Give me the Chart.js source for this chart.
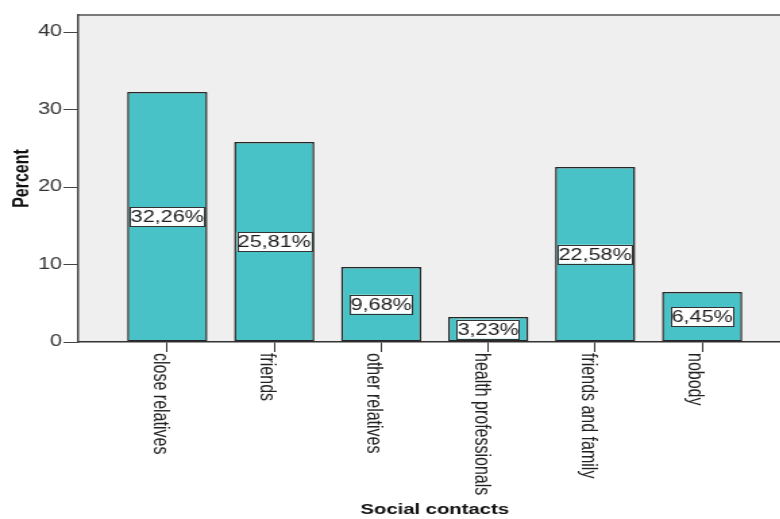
<!DOCTYPE html>
<html>
<head>
<meta charset="utf-8">
<script src="https://cdn.jsdelivr.net/npm/chart.js@4.4.1/dist/chart.umd.min.js"></script>
<style>
  html, body { margin: 0; padding: 0; background: #fff; overflow: hidden; width: 780px; height: 519px; }
  #wrap { position: relative; width: 586px; height: 519px; transform: scaleX(1.35); transform-origin: 0 0; }
</style>
</head>
<body>
<div id="wrap"><canvas id="c"></canvas></div>
<script>
// ---- data ----
const categories = ["close relatives", "friends", "other relatives", "health professionals", "friends and family", "nobody"];
const percents = [32.26, 25.81, 9.68, 3.23, 22.58, 6.45];
const yTicks = [0, 10, 20, 30, 40];
const xTitle = "Social contacts";
const yTitle = "Percent";

const FONT = "'Liberation Sans', Arial, Helvetica, sans-serif";
Chart.defaults.font.family = FONT;

const points = categories.map((c, i) => ({ x: i, y: percents[i] }));

const bgPlugin = {
  id: 'bg',
  beforeDraw(chart) {
    const { ctx, chartArea: a } = chart;
    ctx.save();
    ctx.fillStyle = '#efefef';
    ctx.fillRect(a.left, a.top, a.right - a.left, a.bottom - a.top);
    ctx.strokeStyle = '#7a7a7a';
    ctx.lineWidth = 2;
    ctx.beginPath();
    ctx.moveTo(a.left, a.top);
    ctx.lineTo(a.right, a.top);
    ctx.stroke();
    ctx.restore();
  }
};

const labelPlugin = {
  id: 'labels',
  afterDatasetsDraw(chart) {
    const { ctx } = chart;
    const meta = chart.getDatasetMeta(0);
    ctx.save();
    ctx.font = '16px ' + FONT;
    ctx.textAlign = 'center';
    ctx.textBaseline = 'middle';
    meta.data.forEach((el, i) => {
      const txt = percents[i].toFixed(2).replace('.', ',') + '%';
      const w = ctx.measureText(txt).width + 1;
      const h = 19;
      const cx = el.x;
      const cy = (el.y + el.base) / 2;
      ctx.fillStyle = '#ffffff';
      ctx.fillRect(cx - w / 2, cy - h / 2, w, h);
      ctx.strokeStyle = '#333333';
      ctx.lineWidth = 1;
      ctx.strokeRect(Math.round(cx - w / 2) + 0.5, Math.round(cy - h / 2) + 0.5, Math.round(w), h);
      ctx.fillStyle = '#1e1e1e';
      ctx.fillText(txt, cx, cy + 1);
    });
    ctx.restore();
  }
};

const xLabelPlugin = {
  id: 'xlabels',
  afterDraw(chart) {
    const { ctx, chartArea: a } = chart;
    const sx = chart.scales.x;
    ctx.save();
    ctx.font = '16px ' + FONT;
    ctx.fillStyle = '#222222';
    ctx.textAlign = 'left';
    ctx.textBaseline = 'alphabetic';
    categories.forEach((c, i) => {
      const px = sx.getPixelForValue(i);
      ctx.save();
      ctx.translate(px - 10, a.bottom + 11);
      ctx.rotate(Math.PI / 2);
      ctx.fillText(c, 0, 0);
      ctx.restore();
    });
    ctx.restore();
  }
};

new Chart(document.getElementById('c'), {
  type: 'bar',
  data: {
    datasets: [{
      data: points,
      backgroundColor: '#48c2c6',
      borderColor: '#262626',
      borderWidth: 1.5,
      borderSkipped: false,
      barPercentage: 0.75,
      categoryPercentage: 1.0
    }]
  },
  options: {
    responsive: true,
    maintainAspectRatio: false,
    animation: false,
    layout: { padding: { top: 15, left: 0, right: 0, bottom: 0 } },
    plugins: { legend: { display: false }, tooltip: { enabled: false } },
    scales: {
      x: {
        type: 'linear',
        offset: false,
        min: -0.832,
        max: 5.832,
        bounds: 'data',
        afterBuildTicks(scale) { scale.ticks = categories.map((c, i) => ({ value: i })); },
        ticks: { display: false, stepSize: 1, includeBounds: false },
        grid: { offset: false, drawOnChartArea: false, drawTicks: true, tickLength: 10, color: '#333333', lineWidth: 1 },
        border: { display: true, color: '#333333', width: 1.5 },
        title: { display: true, text: xTitle, color: '#111111', font: { size: 15, weight: 'bold' }, padding: { top: 149, bottom: 0 } }
      },
      y: {
        type: 'linear',
        min: 0,
        max: 42.2,
        bounds: 'data',
        afterBuildTicks(scale) { scale.ticks = yTicks.map(v => ({ value: v })); },
        ticks: { stepSize: 10, includeBounds: false, color: '#333333', font: { size: 16 }, padding: 1 },
        grid: { drawOnChartArea: false, drawTicks: true, tickLength: 11, color: '#444444', lineWidth: 1 },
        border: { display: true, color: '#444444', width: 1.5 },
        title: { display: true, text: yTitle, color: '#111111', font: { size: 16, weight: 'bold' }, padding: { top: 6.7, bottom: 1.3 } }
      }
    }
  },
  plugins: [bgPlugin, labelPlugin, xLabelPlugin]
});
</script>
</body>
</html>
